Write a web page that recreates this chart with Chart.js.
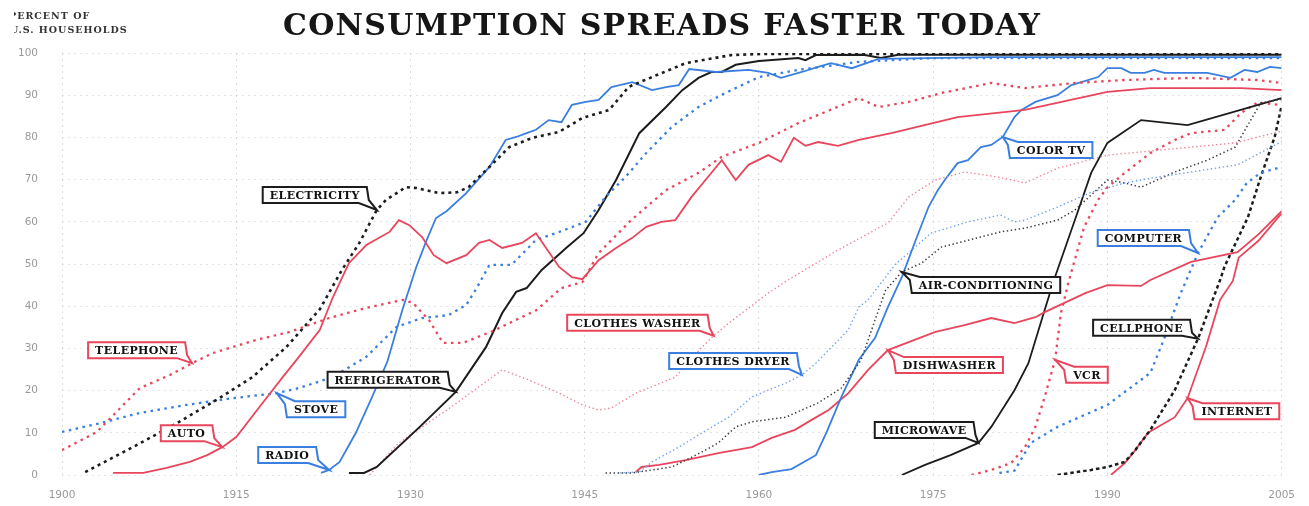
<!DOCTYPE html>
<html>
<head>
<meta charset="utf-8">
<script src="https://cdn.jsdelivr.net/npm/chart.js@4.4.1/dist/chart.umd.min.js"></script>
<style>
  html, body { margin: 0; padding: 0; background: #fff; }
  #wrap { width: 1309px; height: 506px; }
</style>
</head>
<body>
<div id="wrap"><canvas id="chart" width="1309" height="506"></canvas></div>
<script>
// Consumption spreads faster today - percent of U.S. households

const xTicks = [1900, 1915, 1930, 1945, 1960, 1975, 1990, 2005];
const yTicks = [0, 10, 20, 30, 40, 50, 60, 70, 80, 90, 100];

const telephoneYears = [1900, 1903, 1904, 1906.7, 1909.3, 1911.2, 1913, 1916.7, 1919.6, 1923, 1926.2, 1929.3, 1930.2, 1931.6, 1932.8, 1934.5, 1937, 1940.8, 1943, 1944.8, 1946.2, 1949, 1952, 1954.8, 1956.8, 1960, 1963.4, 1968.6, 1970.3, 1972.9, 1975.7, 1980, 1982.9, 1987.2, 1991.5, 1997.2, 2002.9, 2005];
const telephoneValues = [5.9, 10.2, 13, 20.6, 23.7, 26.5, 28.9, 32, 33.9, 37.2, 39.6, 41.5, 40.8, 36.7, 31.3, 31.3, 34, 39, 44.3, 45.7, 52.6, 60.4, 67.5, 71.6, 75.4, 78.7, 83.4, 89.3, 87.2, 88.4, 90.5, 92.9, 91.7, 92.9, 93.6, 94.1, 93.6, 92.9];

const electricityYears = [1902, 1906.1, 1909.9, 1913.3, 1916.4, 1919.3, 1922.2, 1924.1, 1925.6, 1927.1, 1927.9, 1929.6, 1930.5, 1932.5, 1934, 1935, 1936.8, 1938.5, 1940.5, 1942.8, 1944.8, 1947.1, 1948.8, 1950.8, 1953.7, 1957.6, 1960.6, 2005];
const electricityValues = [0.7, 6.6, 12.3, 17.8, 23.2, 30.3, 39.3, 48.6, 55, 62.8, 65.2, 68.2, 68, 66.8, 67, 68.2, 73, 77.7, 79.9, 81.3, 84.6, 86.5, 92, 94.3, 97.6, 99.5, 99.8, 99.8];

const autoYears = [1904.4, 1907, 1909, 1911, 1912.5, 1913.8, 1915, 1917, 1919, 1920.4, 1922.2, 1923.3, 1924.7, 1926.2, 1928.2, 1929, 1929.9, 1931, 1932, 1933.1, 1934.8, 1935.9, 1936.8, 1937.9, 1939.6, 1940.8, 1942.8, 1943.9, 1944.8, 1946.2, 1947.7, 1949.1, 1950.3, 1951.6, 1952.8, 1954.2, 1955.4, 1956.8, 1958, 1959.1, 1960.8, 1961.9, 1963, 1964, 1965.1, 1966.8, 1968.6, 1971.4, 1977.1, 1982.9, 1990, 1993.7, 2001.5, 2005];
const autoValues = [0.5, 0.5, 1.7, 3.1, 4.7, 6.6, 9, 16.1, 23.2, 28, 34.4, 42, 50.2, 54.5, 57.6, 60.4, 59.2, 56.4, 52.1, 50.2, 52.1, 55, 55.7, 53.8, 55, 57.3, 49.3, 46.9, 46.4, 50.9, 53.8, 56.2, 58.8, 60, 60.4, 65.9, 69.9, 74.6, 69.9, 73.5, 75.8, 74.2, 79.9, 78, 78.9, 78, 79.4, 81, 84.8, 86.5, 90.8, 91.7, 91.7, 91.2];

const stoveYears = [1900, 1903.3, 1906.7, 1910.7, 1914.7, 1918.5, 1920.4, 1923.3, 1926.2, 1928.8, 1931, 1933.3, 1934.8, 1935.7, 1936.8, 1938.7, 1940.8, 1942.8, 1945.1, 1946.8, 1948.5, 1950.3, 1952.5, 1954.8, 1957.1, 1960, 1963.4, 1968.6, 1975, 2005];
const stoveValues = [10.2, 12.3, 14.7, 16.6, 18.2, 19.4, 20.6, 23.2, 28, 35.1, 37.2, 37.9, 40.3, 44.3, 49.8, 49.8, 55.7, 57.6, 60, 65.9, 70.6, 76.3, 82.5, 87.2, 90.5, 94.3, 96, 97.9, 98.8, 98.8];

const radioYears = [1922.3, 1923, 1923.9, 1925.3, 1926.7, 1928, 1929.3, 1930.5, 1931.4, 1932.2, 1933.1, 1934.8, 1936.8, 1938.2, 1939.1, 1940, 1940.8, 1941.9, 1943, 1943.9, 1945.1, 1946.2, 1947.3, 1949.1, 1950.8, 1952, 1953.1, 1954, 1956.3, 1959.1, 1960.8, 1961.9, 1963.7, 1965.1, 1966.2, 1968, 1970.3, 1980, 2005];
const radioValues = [0.5, 1.2, 3.1, 10, 18.5, 26.8, 39.1, 49.3, 55.7, 60.9, 62.5, 66.8, 73, 79.4, 80.1, 81, 81.8, 84.1, 83.6, 87.7, 88.4, 88.9, 91.9, 93.1, 91.2, 91.9, 92.4, 96.2, 95.5, 96, 95.3, 94.1, 95.5, 96.7, 97.6, 96.4, 98.6, 99, 99];

const refrigeratorYears = [1924.7, 1926, 1927.1, 1930.8, 1933.9, 1936.5, 1937.9, 1939.1, 1940, 1941.3, 1943.4, 1944.9, 1946.2, 1947.7, 1949.7, 1952, 1953.4, 1954.8, 1955.9, 1956.8, 1958, 1960, 1963.4, 1964, 1964.9, 1969, 1970.5, 1972, 2005];
const refrigeratorValues = [0.5, 0.5, 1.9, 11.4, 19.7, 30.3, 38.4, 43.4, 44.3, 48.6, 53.8, 57.3, 62.8, 69.9, 81, 87.2, 91.2, 94.1, 95.5, 95.5, 97.2, 98.1, 98.8, 98.3, 99.5, 99.6, 98.8, 99.6, 99.6];

const washerYears = [1926.5, 1927.1, 1929, 1931, 1933.5, 1935.9, 1937.9, 1940.2, 1942.8, 1944.8, 1946.2, 1947.3, 1949.4, 1952.8, 1955.1, 1956.1, 1957.4, 1960.8, 1962.5, 1966.8, 1971.1, 1972.9, 1975.2, 1977.7, 1980.6, 1982.9, 1985.7, 1990, 1997.2, 2001, 2005];
const washerValues = [0, 1.9, 7.6, 11.4, 16.1, 20.9, 24.9, 22.5, 19.4, 16.6, 15.4, 15.9, 19.4, 23.2, 30.3, 33, 36, 43.1, 46.2, 53.3, 59.7, 65.9, 69.9, 71.8, 70.6, 69.2, 72.7, 75.8, 77.7, 78.7, 81.5];

const dryerYears = [1948, 1949.7, 1950.8, 1953.1, 1955.1, 1957.4, 1959.4, 1962.3, 1963.7, 1964.9, 1967.7, 1968.6, 1969.4, 1971.7, 1974.8, 1978, 1980.8, 1982, 1982.9, 1985.7, 1988.6, 1991.5, 1994.3, 1997.2, 2001.2, 2005];
const dryerValues = [0.5, 0.7, 3.1, 6.6, 10, 13.7, 18.5, 21.8, 23.7, 26.5, 34.4, 39.8, 41.5, 49.8, 57.3, 60, 61.6, 60, 60.4, 63.5, 67, 69.2, 70.6, 71.8, 73.5, 79];

const airconYears = [1946.8, 1949.1, 1952.5, 1953.7, 1955.4, 1956.5, 1958, 1959.4, 1962.3, 1965.1, 1967.1, 1968.8, 1970.3, 1970.9, 1972.3, 1974, 1975.7, 1980.8, 1982.9, 1985.7, 1987.2, 1990, 1991.5, 1992.9, 1995.8, 1998.6, 2001, 2002, 2003.2, 2005];
const airconValues = [0.5, 0.5, 1.9, 3.5, 5.9, 7.6, 11.4, 12.6, 13.7, 17.1, 20.6, 27.3, 39.1, 43.8, 48.1, 50.2, 54, 57.6, 58.5, 60.4, 62.8, 69.9, 69.2, 68.2, 71.8, 74.6, 77.7, 82.5, 88.2, 89];

const colorTvYears = [1960, 1961.1, 1962.8, 1964.9, 1965.8, 1967.1, 1968.6, 1970, 1971.1, 1972.3, 1973.5, 1974.6, 1975.4, 1976, 1977.1, 1978, 1979.1, 1980, 1981, 1982, 1982.6, 1983.8, 1985.7, 1986.9, 1989.2, 1990, 1991.2, 1992, 1993.2, 1994, 1994.9, 1998.6, 2000.6, 2001.8, 2002.9, 2004, 2005];
const colorTvValues = [0, 0.7, 1.4, 4.7, 10, 18.5, 27.3, 32.5, 39.8, 46.9, 55.7, 63.5, 67.5, 69.9, 73.9, 74.6, 77.7, 78.2, 80.1, 84.8, 86.5, 88.4, 90, 92.4, 94.3, 96.4, 96.4, 95.3, 95.3, 96, 95.3, 95.3, 94.1, 96, 95.5, 96.7, 96.4];

const dishwasherYears = [1949.4, 1949.9, 1951.4, 1953.7, 1956.5, 1959.4, 1961.1, 1963.1, 1964.5, 1966, 1967.7, 1969.4, 1971.1, 1975.2, 1977.7, 1980, 1982, 1983.8, 1984.6, 1986.3, 1988.1, 1990, 1992.9, 1993.7, 1997.2, 2001.2, 2003, 2005];
const dishwasherValues = [0.7, 1.9, 2.4, 3.5, 5.2, 6.6, 8.8, 10.7, 13, 15.4, 19.4, 24.9, 29.6, 33.9, 35.5, 37.2, 36, 37.4, 38.6, 40.8, 43.1, 45, 44.8, 46.2, 50.5, 52.8, 57, 62.5];

const microwaveYears = [1972.3, 1974.3, 1976.5, 1978.9, 1980, 1982, 1983.2, 1984.6, 1985.4, 1987.5, 1988.6, 1990, 1992.9, 1996.9, 2005];
const microwaveValues = [0, 2.4, 4.7, 7.6, 11.4, 20.1, 26.5, 39.1, 46.2, 62.8, 71.6, 78.7, 84.1, 82.9, 89.3];

const vcrYears = [1978.3, 1980, 1981.7, 1982.9, 1983.8, 1984.6, 1985.5, 1986, 1986.7, 1988, 1989.2, 1990, 1991.5, 1993.7, 1995.8, 1997.2, 2000.1, 2001.5, 2002.9, 2005];
const vcrValues = [0, 1.2, 2.8, 6.6, 11.4, 18.5, 27.3, 38.4, 46.2, 58.8, 65.2, 68.2, 71.6, 76.3, 79.4, 81, 81.8, 85.8, 88.2, 87.7];

const computerYears = [1980.7, 1982, 1983.4, 1985.7, 1990, 1993.7, 1994.9, 1996.3, 1997.8, 1999.5, 2001, 2002, 2003.2, 2005];
const computerValues = [0.5, 1, 7.6, 11.4, 16.6, 24.2, 32.4, 43, 52.6, 61.1, 65.2, 69.2, 71.6, 73];

const cellphoneYears = [1985.7, 1988.6, 1990, 1991.5, 1992.4, 1993.7, 1995.8, 1996.3, 1997.8, 1999.7, 2000.1, 2002.1, 2003.2, 2004.4, 2005];
const cellphoneValues = [0, 1.2, 1.9, 3.1, 5.9, 10.7, 20.1, 23.2, 32.3, 46.2, 49.5, 61.1, 70.6, 80.1, 87.5];

const internetYears = [1990.3, 1991.5, 1992.4, 1993.5, 1995.8, 1996.9, 1998.5, 1999.7, 2000.8, 2001.3, 2003, 2005];
const internetValues = [0, 2.8, 5.9, 10, 13.7, 18.2, 30.5, 41.5, 46, 51.5, 55.5, 62];

const RED = '#e8465d';
const PINK = '#ee8597';
const BLUE = '#3a7fe0';
const LIGHTBLUE = '#6ea2ea';
const BLACK = '#1c1c1c';
const GREY = '#3a3a3a';

// line styles
const SOLID = [];
const DOTS = [2.5, 4.5];
const FINE = [1.4, 2.6];
const DASH = [3.5, 3];

const series = {
    telephone:    { years: telephoneYears, values: telephoneValues, color: RED, dash: DOTS, width: 2.3 },
    electricity:  { years: electricityYears, values: electricityValues, color: BLACK, dash: [3, 4], width: 2.6 },
    auto:         { years: autoYears, values: autoValues, color: RED, dash: SOLID, width: 1.8 },
    stove:        { years: stoveYears, values: stoveValues, color: BLUE, dash: DOTS, width: 2.3 },
    radio:        { years: radioYears, values: radioValues, color: BLUE, dash: SOLID, width: 1.8 },
    refrigerator: { years: refrigeratorYears, values: refrigeratorValues, color: BLACK, dash: SOLID, width: 2 },
    washer:       { years: washerYears, values: washerValues, color: PINK, dash: FINE, width: 1.4 },
    dryer:        { years: dryerYears, values: dryerValues, color: LIGHTBLUE, dash: FINE, width: 1.4 },
    aircon:       { years: airconYears, values: airconValues, color: GREY, dash: FINE, width: 1.5 },
    colorTv:      { years: colorTvYears, values: colorTvValues, color: BLUE, dash: SOLID, width: 1.8 },
    dishwasher:   { years: dishwasherYears, values: dishwasherValues, color: RED, dash: SOLID, width: 1.8 },
    microwave:    { years: microwaveYears, values: microwaveValues, color: BLACK, dash: SOLID, width: 1.8 },
    vcr:          { years: vcrYears, values: vcrValues, color: RED, dash: DOTS, width: 2.3 },
    computer:     { years: computerYears, values: computerValues, color: BLUE, dash: DOTS, width: 2.3 },
    cellphone:    { years: cellphoneYears, values: cellphoneValues, color: BLACK, dash: DASH, width: 2.5 },
    internet:     { years: internetYears, values: internetValues, color: RED, dash: SOLID, width: 1.8 }
};

// callout boxes: anchored on a data point of the series, tail at bottom-right (br) or top-left (tl)
const callouts = [
    { text: 'TELEPHONE', s: 'telephone', i: 5, tail: 'br', dx: -7, dy: -5, color: RED },
    { text: 'AUTO', s: 'auto', i: 5, tail: 'br', dx: -10, dy: -6, color: RED },
    { text: 'STOVE', s: 'stove', i: 5, tail: 'tl', dx: 10, dy: 8, color: BLUE },
    { text: 'RADIO', s: 'radio', i: 1, tail: 'br', dx: -13, dy: -7, color: BLUE },
    { text: 'REFRIGERATOR', s: 'refrigerator', i: 4, tail: 'br', dx: -8, dy: -4, color: BLACK },
    { text: 'ELECTRICITY', s: 'electricity', i: 9, tail: 'br', dx: -10, dy: -7, color: BLACK },
    { text: 'CLOTHES WASHER', s: 'washer', i: 15, tail: 'br', dx: -6, dy: -5, color: RED },
    { text: 'CLOTHES DRYER', s: 'dryer', i: 8, tail: 'br', dx: -5, dy: -6, color: BLUE },
    { text: 'AIR-CONDITIONING', s: 'aircon', i: 14, tail: 'tl', dx: 10, dy: 5, color: BLACK },
    { text: 'COLOR TV', s: 'colorTv', i: 18, tail: 'tl', dx: 7, dy: 5, color: BLUE },
    { text: 'COMPUTER', s: 'computer', i: 8, tail: 'br', dx: -9, dy: -7, color: BLUE },
    { text: 'DISHWASHER', s: 'dishwasher', i: 12, tail: 'tl', dx: 8, dy: 7, color: RED },
    { text: 'VCR', s: 'vcr', i: 6, tail: 'tl', dx: 11, dy: 7, color: RED },
    { text: 'MICROWAVE', s: 'microwave', i: 3, tail: 'br', dx: -5, dy: -5, color: BLACK },
    { text: 'CELLPHONE', s: 'cellphone', i: 8, tail: 'br', dx: -8, dy: -3, color: BLACK },
    { text: 'INTERNET', s: 'internet', i: 5, tail: 'tl', dx: 7, dy: 5, color: RED }
];

const datasets = Object.entries(series).map(([key, s]) => ({
    label: key,
    data: s.years.map((yr, i) => ({ x: yr, y: s.values[i] })),
    borderColor: s.color,
    borderWidth: s.width,
    borderDash: s.dash,
    pointRadius: 0,
    tension: 0,
    fill: false
}));

const headerPlugin = {
    id: 'header',
    afterDraw(chart) {
        const ctx = chart.ctx;
        ctx.save();
        // main title, stretched to the width of the original
        ctx.font = 'bold 30px "DejaVu Serif"';
        ctx.fillStyle = '#161616';
        ctx.textBaseline = 'alphabetic';
        const title = 'CONSUMPTION SPREADS FASTER TODAY';
        const w = ctx.measureText(title).width;
        const target = 757;
        ctx.letterSpacing = Math.max(0, (target - w) / (title.length - 1)) + 'px';
        ctx.textAlign = 'left';
        ctx.fillText(title, 283, 35);

        // axis caption, cut at the left edge like the scan
        ctx.beginPath();
        ctx.rect(14, 0, 200, 45);
        ctx.clip();
        ctx.font = 'bold 9.5px "DejaVu Serif"';
        ctx.letterSpacing = '1px';
        ctx.fillStyle = '#333';
        ctx.fillText('PERCENT OF', 9, 19);
        ctx.fillText('U.S. HOUSEHOLDS', 10, 33);
        ctx.restore();
    }
};

const calloutPlugin = {
    id: 'callouts',
    afterDraw(chart) {
        const { ctx, scales: { x, y } } = chart;
        ctx.save();
        ctx.font = 'bold 11px "DejaVu Serif"';
        ctx.letterSpacing = '0.4px';
        ctx.textBaseline = 'middle';
        ctx.textAlign = 'center';
        callouts.forEach(c => {
            const s = series[c.s];
            const px = x.getPixelForValue(s.years[c.i]);
            const py = y.getPixelForValue(s.values[c.i]);
            const w = ctx.measureText(c.text).width + 14;
            const h = 16;
            let L, T, R, B;
            ctx.beginPath();
            if (c.tail === 'br') {
                R = px + c.dx; B = py + c.dy; L = R - w; T = B - h;
                ctx.moveTo(L, T);
                ctx.lineTo(R, T);
                ctx.lineTo(R + 2, B - 3);
                ctx.lineTo(px, py);
                ctx.lineTo(R - 8, B);
                ctx.lineTo(L, B);
            } else {
                L = px + c.dx; T = py + c.dy; R = L + w; B = T + h;
                ctx.moveTo(R, B);
                ctx.lineTo(L, B);
                ctx.lineTo(L - 2, T + 3);
                ctx.lineTo(px, py);
                ctx.lineTo(L + 8, T);
                ctx.lineTo(R, T);
            }
            ctx.closePath();
            ctx.fillStyle = '#fff';
            ctx.fill();
            ctx.lineWidth = 2;
            ctx.lineJoin = 'miter';
            ctx.strokeStyle = c.color;
            ctx.stroke();
            ctx.fillStyle = '#111';
            ctx.fillText(c.text, (L + R) / 2, (T + B) / 2 + 1);
        });
        ctx.restore();
    }
};

new Chart(document.getElementById('chart'), {
    type: 'line',
    data: { datasets },
    options: {
        responsive: false,
        animation: false,
        events: [],
        layout: { padding: { left: 0, top: 53, right: 25, bottom: 0 } },
        plugins: { legend: { display: false }, tooltip: { enabled: false } },
        scales: {
            x: {
                type: 'linear',
                min: xTicks[0],
                max: xTicks[xTicks.length - 1],
                afterBuildTicks: axis => { axis.ticks = xTicks.map(v => ({ value: v })); },
                afterFit: axis => { axis.height = 31; },
                ticks: {
                    padding: 14,
                    color: '#9a9a9a',
                    font: { family: '"DejaVu Sans"', size: 10.5 },
                    callback: v => String(v),
                    maxRotation: 0
                },
                grid: { color: 'rgba(110,110,110,0.22)', lineWidth: 1, drawTicks: false },
                border: { display: false, dash: [2, 4] }
            },
            y: {
                min: 0,
                max: 100,
                afterBuildTicks: axis => { axis.ticks = yTicks.map(v => ({ value: v })); },
                afterFit: axis => { axis.width = 62; },
                ticks: {
                    padding: 24,
                    color: '#9a9a9a',
                    font: { family: '"DejaVu Sans"', size: 10.5 }
                },
                grid: { color: 'rgba(110,110,110,0.18)', lineWidth: 1, drawTicks: false },
                border: { display: false, dash: [2, 4] }
            }
        }
    },
    plugins: [headerPlugin, calloutPlugin]
});
</script>
</body>
</html>
